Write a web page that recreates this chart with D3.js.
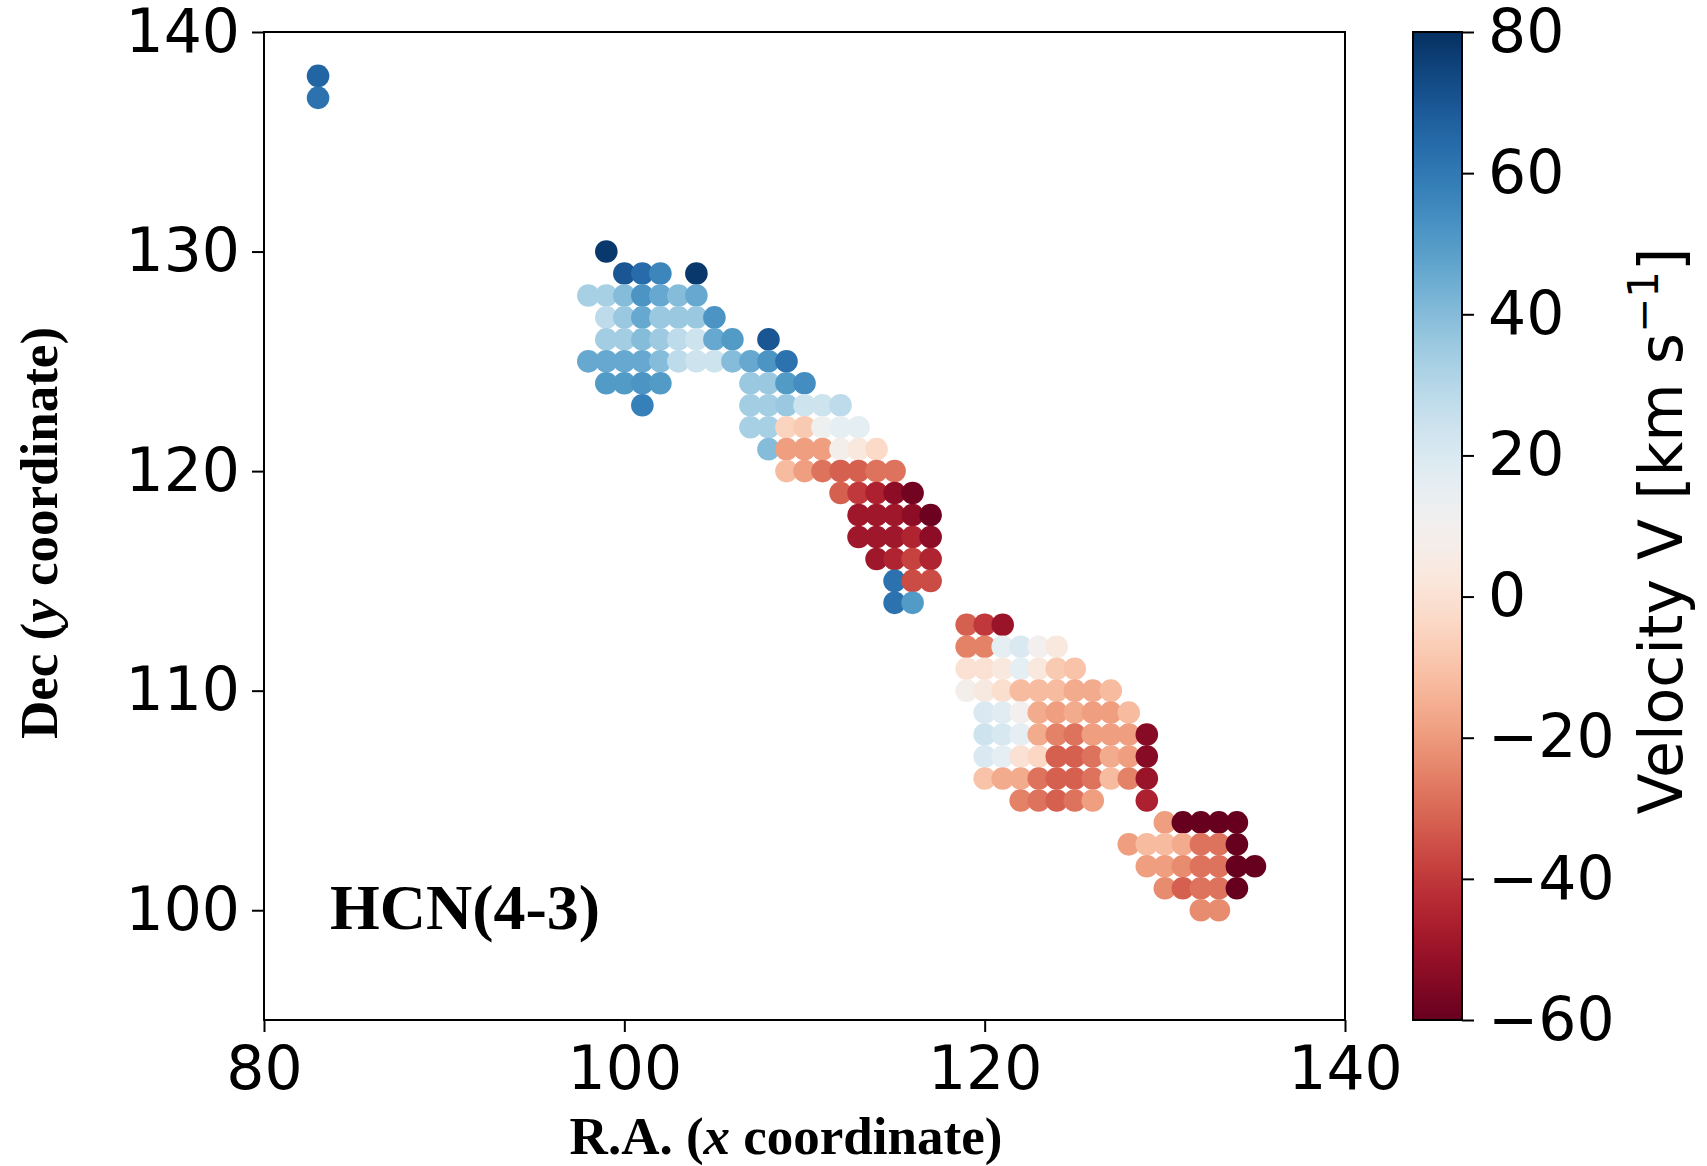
<!DOCTYPE html>
<html>
<head>
<meta charset="utf-8">
<script src="https://cdn.jsdelivr.net/npm/d3@7"></script>
<style>
  html, body { margin: 0; padding: 0; background: #fff; }
  svg { display: block; }
</style>
</head>
<body>
<svg id="chart" width="1707" height="1166"></svg>
<script>
// ---------------- DATA ----------------
const decRows = [138, 137, 130, 129, 128, 127, 126, 125, 124, 123, 122, 121, 120, 119, 118, 117, 116, 115, 114,
                 113, 112, 111, 110, 109, 108, 107, 106, 105, 104, 103, 102, 101, 100];
const raRows = [
  [83], [83], [99],
  [100, 101, 102, 104],
  [98, 99, 100, 101, 102, 103, 104],
  [99, 100, 101, 102, 103, 104, 105],
  [99, 100, 101, 102, 103, 104, 105, 106, 108],
  [98, 99, 100, 101, 102, 103, 104, 105, 106, 107, 108, 109],
  [99, 100, 101, 102, 107, 108, 109, 110],
  [101, 107, 108, 109, 110, 111, 112],
  [107, 108, 109, 110, 111, 112, 113],
  [108, 109, 110, 111, 112, 113, 114],
  [109, 110, 111, 112, 113, 114, 115],
  [112, 113, 114, 115, 116],
  [113, 114, 115, 116, 117],
  [113, 114, 115, 116, 117],
  [114, 115, 116, 117],
  [115, 116, 117],
  [115, 116],
  [119, 120, 121],
  [119, 120, 121, 122, 123, 124],
  [119, 120, 121, 122, 123, 124, 125],
  [119, 120, 121, 122, 123, 124, 125, 126, 127],
  [120, 121, 122, 123, 124, 125, 126, 127, 128],
  [120, 121, 122, 123, 124, 125, 126, 127, 128, 129],
  [120, 121, 122, 123, 124, 125, 126, 127, 128, 129],
  [120, 121, 122, 123, 124, 125, 126, 127, 128, 129],
  [122, 123, 124, 125, 126, 129],
  [130, 131, 132, 133, 134],
  [128, 129, 130, 131, 132, 133, 134],
  [129, 130, 131, 132, 133, 134, 135],
  [130, 131, 132, 133, 134],
  [132, 133]
];
const velRows = [
  [66], [62], [78],
  [70, 64, 56, 78],
  [33, 33, 40, 52, 46, 40, 46],
  [28, 36, 46, 36, 36, 36, 52],
  [34, 34, 40, 35, 28, 24, 46, 50, 70],
  [46, 46, 46, 46, 40, 28, 24, 24, 40, 46, 52, 62],
  [50, 50, 52, 50, 36, 36, 50, 54],
  [58, 34, 34, 36, 24, 24, 28],
  [33, 33, -5, -8, 12, 16, 16],
  [40, -19, -19, -19, 8, 3, -3],
  [-12, -19, -28, -32, -32, -28, -28],
  [-32, -40, -46, -53, -58],
  [-49, -49, -49, -53, -59],
  [-49, -49, -49, -45, -53],
  [-49, -45, -38, -45],
  [62, -36, -36],
  [62, 50],
  [-32, -40, -50],
  [-25, -25, 16, 20, 10, 3],
  [0, 0, 3, 16, 3, -8, -10],
  [8, 4, -1, -12, -12, -12, -16, -16, -12],
  [20, 18, 10, -16, -19, -16, -19, -19, -12],
  [24, 21, 16, -16, -25, -28, -19, -19, -19, -54],
  [20, 16, 0, -4, -32, -32, -28, -16, -19, -54],
  [-10, -16, -16, -28, -32, -32, -28, -12, -25, -50],
  [-25, -28, -32, -28, -19, -46],
  [-19, -60, -60, -60, -60],
  [-19, -12, -12, -16, -28, -28, -60],
  [-19, -19, -23, -28, -28, -60, -60],
  [-23, -32, -28, -28, -60],
  [-23, -23]
];
const xTicks = [80, 100, 120, 140];
const yTicks = [100, 110, 120, 130, 140];
const cTicks = [-60, -40, -20, 0, 20, 40, 60, 80];
const xDomain = [80, 140];
const yDomain = [95, 140];
const vDomain = [-60, 80];
const xLabel = ["R.A. (", "x", " coordinate)"];
const yLabel = ["Dec (", "y", " coordinate)"];
const panelLabel = "HCN(4-3)";

// ---------------- LAYOUT ----------------
const plot = { left: 264, top: 32, right: 1345, bottom: 1020 };
const cbar = { left: 1413, right: 1462 };
const tickFont = "'DejaVu Sans', sans-serif";
const serif = "'Liberation Serif', 'Times New Roman', serif";

const svg = d3.select("#chart");

const x = d3.scaleLinear().domain(xDomain).range([plot.left, plot.right]);
const y = d3.scaleLinear().domain(yDomain).range([plot.bottom, plot.top]);
const cScale = t => d3.interpolateRdBu(t);
const vNorm = d3.scaleLinear().domain(vDomain).range([0, 1]).clamp(true);
const color = v => cScale(vNorm(v));

const points = [];
decRows.forEach((dec, i) => {
  raRows[i].forEach((ra, j) => points.push({ ra, dec, v: velRows[i][j] }));
});

// points
svg.append("g").selectAll("circle").data(points).join("circle")
  .attr("cx", d => x(d.ra))
  .attr("cy", d => y(d.dec))
  .attr("r", 11.3)
  .attr("fill", d => color(d.v));

// axes
function styleAxis(g) {
  g.selectAll(".domain").remove();
  g.selectAll(".tick line").attr("stroke", "#000").attr("stroke-width", 2);
  g.selectAll(".tick text").attr("font-family", tickFont).attr("font-size", 60).attr("fill", "#000");
}
const xAxis = svg.append("g").attr("transform", `translate(0,${plot.bottom})`)
  .call(d3.axisBottom(x).tickValues(xTicks).tickSize(12).tickPadding(14).tickFormat(d3.format("d")));
styleAxis(xAxis);
xAxis.attr("font-size", null);

const yAxis = svg.append("g").attr("transform", `translate(${plot.left},0)`)
  .call(d3.axisLeft(y).tickValues(yTicks).tickSize(12).tickPadding(12).tickFormat(d3.format("d")));
styleAxis(yAxis);

// frame
svg.append("rect")
  .attr("x", plot.left).attr("y", plot.top)
  .attr("width", plot.right - plot.left).attr("height", plot.bottom - plot.top)
  .attr("fill", "none").attr("stroke", "#000").attr("stroke-width", 2);

// axis labels
const xl = svg.append("text")
  .attr("x", 786).attr("y", 1154)
  .attr("text-anchor", "middle")
  .attr("font-family", serif).attr("font-weight", "bold").attr("font-size", 53).attr("fill", "#000");
xl.append("tspan").text(xLabel[0]);
xl.append("tspan").attr("font-style", "italic").text(xLabel[1]);
xl.append("tspan").text(xLabel[2]);

const yl = svg.append("text")
  .attr("transform", "translate(57,533) rotate(-90)")
  .attr("text-anchor", "middle")
  .attr("font-family", serif).attr("font-weight", "bold").attr("font-size", 53).attr("fill", "#000");
yl.append("tspan").text(yLabel[0]);
yl.append("tspan").attr("font-style", "italic").text(yLabel[1]);
yl.append("tspan").text(yLabel[2]);

svg.append("text")
  .attr("x", 330).attr("y", 929)
  .attr("font-family", serif).attr("font-weight", "bold").attr("font-size", 64).attr("fill", "#000")
  .text(panelLabel);

// colorbar
const cy = d3.scaleLinear().domain(vDomain).range([plot.bottom, plot.top]);
const defs = svg.append("defs");
const grad = defs.append("linearGradient").attr("id", "cgrad")
  .attr("x1", 0).attr("y1", 1).attr("x2", 0).attr("y2", 0);
d3.range(0, 1.0001, 0.02).forEach(t => {
  grad.append("stop").attr("offset", t).attr("stop-color", cScale(t));
});
svg.append("rect")
  .attr("x", cbar.left).attr("y", plot.top)
  .attr("width", cbar.right - cbar.left).attr("height", plot.bottom - plot.top)
  .attr("fill", "url(#cgrad)").attr("stroke", "#000").attr("stroke-width", 2);

const cAxis = svg.append("g").attr("transform", `translate(${cbar.right},0)`)
  .call(d3.axisRight(cy).tickValues(cTicks).tickSize(12).tickPadding(14)
    .tickFormat(d => d < 0 ? "\u2212" + Math.abs(d) : String(d)));
styleAxis(cAxis);

const cl = svg.append("text")
  .attr("transform", "translate(1682,531) rotate(-90)")
  .attr("text-anchor", "middle")
  .attr("font-family", tickFont).attr("font-size", 60).attr("fill", "#000");
cl.append("tspan").text("Velocity V [km s");
cl.append("tspan").attr("font-size", 42).attr("dy", -24).text("\u22121");
cl.append("tspan").attr("dy", 24).text("]");
</script>
</body>
</html>
